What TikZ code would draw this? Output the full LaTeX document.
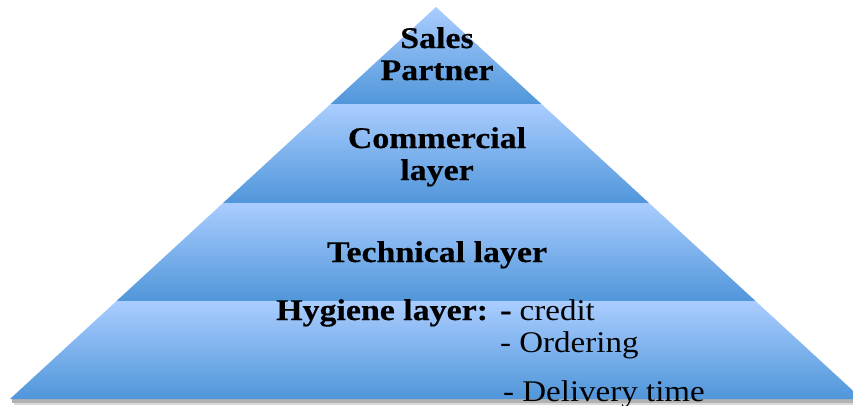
\documentclass[tikz,border=0pt]{standalone}
\usepackage{fontspec}
\setmainfont{Liberation Serif}[FakeStretch=1.1]
\newfontfamily\boldwide{Liberation Serif}[FakeStretch=1.13,FakeBold=0.4]
\definecolor{lt}{RGB}{170,205,255}
\definecolor{dk}{RGB}{80,150,218}
\begin{document}
\begin{tikzpicture}[x=1pt,y=-1pt,
  layerfill/.style={top color=lt,bottom color=dk,draw=none},
  bold/.style={font=\boldwide\bfseries\fontsize{30}{32}\selectfont,align=center,inner sep=0pt},
  plain/.style={font=\fontsize{30}{32}\selectfont,inner sep=0pt,anchor=base west}]
\useasboundingbox (0,0) rectangle (853,405);
\begin{scope}
\clip (0,0) rectangle (853,405);
% soft shadow under base
\fill[black!30] (12,399) rectangle (862,403);
\fill[black!15] (14,403) rectangle (862,405);
% layers
\shade[layerfill] (436,7) -- (541.4,104) -- (330.6,104) -- cycle;
\shade[layerfill] (330.6,104) -- (541.4,104) -- (649,203) -- (223,203) -- cycle;
\shade[layerfill] (223,203) -- (649,203) -- (755.5,301) -- (116.5,301) -- cycle;
\shade[layerfill] (116.5,301) -- (755.5,301) -- (862,399) -- (10,399) -- cycle;
% texts
\node[bold,anchor=base] (sales) at (437,48) {Sales};
\node[bold,anchor=base] (partner) at (437,80) {Partner};
\node[bold,anchor=base] (comm) at (437,148) {Commercial};
\node[bold,anchor=base] (layer) at (437,180) {layer};
\node[bold,anchor=base] (tech) at (437,262) {Technical layer};
\node[bold,anchor=base west] (hyg) at (276,320) {Hygiene layer:};
\node[plain] (credit) at (500,320) {{\boldwide\bfseries -} credit};
\node[plain] (order) at (500,352) {- Ordering};
\node[plain] (deliv) at (503,401) {- Delivery time};
\end{scope}
\end{tikzpicture}
\end{document}
